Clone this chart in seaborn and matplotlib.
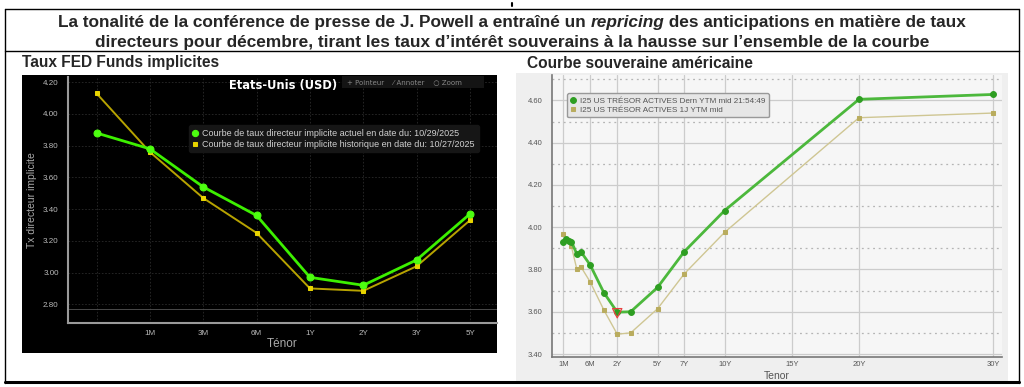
import numpy as np
import pandas as pd
import matplotlib
matplotlib.use("Agg")
import matplotlib.pyplot as plt
import seaborn as sns
from matplotlib.patches import Rectangle
from matplotlib.lines import Line2D

# -----------------------------
# Data
# -----------------------------

# left panel: implied fed funds curve
fed_tenors = ["", "1M", "3M", "6M", "1Y", "2Y", "3Y", "5Y"]
fed_current = [3.88, 3.78, 3.54, 3.36, 2.97, 2.92, 3.08, 3.37]
fed_previous = [4.13, 3.76, 3.47, 3.25, 2.90, 2.885, 3.04, 3.33]
fed_current_label = "Courbe de taux directeur implicite actuel en date du: 10/29/2025"
fed_previous_label = "Courbe de taux directeur implicite historique en date du: 10/27/2025"

# right panel: US treasury curve (maturity in years)
ust_years = [1/12, 1.5/12, 2/12, 2.5/12, 3.5/12, 4.25/12, 0.5, 1, 2, 3, 5, 7, 10, 20, 30]
ust_current = [3.932, 3.943, 3.937, 3.932, 3.874, 3.885, 3.822, 3.691, 3.598, 3.600,
               3.715, 3.885, 4.079, 4.605, 4.628]
ust_previous = [3.968, 3.940, 3.935, 3.909, 3.803, 3.814, 3.742, 3.609, 3.494, 3.500,
                3.614, 3.780, 3.976, 4.518, 4.540]
ust_tick_years = [1/12, 0.5, 2, 5, 7, 10, 15, 20, 30]
ust_tick_labels = ["1M", "6M", "2Y", "5Y", "7Y", "10Y", "15Y", "20Y", "30Y"]
ust_current_label = "I25 US TRÉSOR ACTIVES Dern YTM mid 21:54:49"
ust_previous_label = "I25 US TRÉSOR ACTIVES 1J YTM mid"

title_parts = [("La tonalité de la conférence de presse de J. Powell a entraîné un ", "normal"),
               ("repricing", "italic"),
               (" des anticipations en matière de taux", "normal")]
title_line2 = "directeurs pour décembre, tirant les taux d’intérêt souverains à la hausse sur l’ensemble de la courbe"

# -----------------------------
# Figure setup
# -----------------------------

sns.set_theme(style="white")
NARROW = ["Liberation Sans Narrow", "Liberation Sans", "DejaVu Sans"]
plt.rcParams["font.family"] = ["Liberation Sans", "DejaVu Sans"]

W, H = 1024, 387
fig = plt.figure(figsize=(W / 100, H / 100), dpi=100)
fig.patch.set_facecolor("white")


def rect(x0, y0, x1, y1):
    return [x0 / W, 1 - y1 / H, (x1 - x0) / W, (y1 - y0) / H]


def fx(x):
    return x / W


def fy(y):
    return 1 - y / H


# outer frame lines
for xs, ys, lw in [([5, 1019], [9, 9], 1.0), ([5, 1019], [51, 51], 1.0),
                   ([5, 5], [9, 383], 1.0), ([1019, 1019], [9, 383], 1.0),
                   ([5, 1019], [382, 382], 2.2)]:
    fig.add_artist(Line2D([fx(x) for x in xs], [fy(y) for y in ys], color="black", lw=lw))
fig.add_artist(Line2D([fx(512), fx(512)], [fy(3), fy(6)], color="black", lw=1.5))

# title with italic word
fs_title = 12.4
pieces = []
for txt, st in title_parts:
    pieces.append(fig.text(0, fy(22), txt, family=NARROW, weight="bold", style=st,
                           fontsize=fs_title, va="center", ha="left"))
fig.canvas.draw()
r = fig.canvas.get_renderer()
widths = [p.get_window_extent(r).width for p in pieces]
x = 512 - sum(widths) / 2
for p, w in zip(pieces, widths):
    p.set_x(fx(x))
    x += w
fig.text(0.5, fy(42), title_line2, family=NARROW, weight="bold", fontsize=fs_title,
         va="center", ha="center")

fig.text(fx(22), fy(63), "Taux FED Funds implicites", family=NARROW, weight="bold",
         fontsize=11.2, va="center", ha="left")
fig.text(fx(527), fy(63), "Courbe souveraine américaine", family=NARROW, weight="bold",
         fontsize=11.2, va="center", ha="left")

# -----------------------------
# Left panel (black Bloomberg style)
# -----------------------------

fig.add_artist(Rectangle((fx(22), fy(353)), (497 - 22) / W, (353 - 75) / H,
                         transform=fig.transFigure, facecolor="black", edgecolor="none", zorder=0))
ax1 = fig.add_axes(rect(67.7, 77, 496.7, 322.7))
ax1.set_facecolor("black")

pos = np.arange(len(fed_tenors))
sns.lineplot(x=pos, y=fed_previous, ax=ax1, color="#b7a300", lw=1.4, marker="s",
             markersize=3.5, markerfacecolor="#e8d400", markeredgecolor="#e8d400",
             label=fed_previous_label, zorder=3)
sns.lineplot(x=pos, y=fed_current, ax=ax1, color="#3df000", lw=2.0, marker="o",
             markersize=5, markerfacecolor="#4dff10", markeredgecolor="#4dff10",
             label=fed_current_label, zorder=4)

ax1.set_xlim(-0.54, 7.5)
ax1.set_ylim(2.684, 4.233)
ax1.set_yticks(np.arange(2.8, 4.21, 0.2))
ax1.set_yticklabels([f"{v:.2f}" for v in np.arange(2.8, 4.21, 0.2)])
ax1.set_xticks(pos)
ax1.set_xticklabels(fed_tenors)
ax1.tick_params(colors="#bbbbbb", labelsize=5.8, length=3, width=1.2, direction="out")
ax1.tick_params(axis="x", pad=2)
ax1.tick_params(axis="y", colors="white", labelcolor="#bbbbbb")
ax1.grid(True, color="#2a2a2a", lw=0.6, ls=(0, (2, 2)))
ax1.axhline(2.77, color="#555555", lw=0.6)
for s in ["top", "right"]:
    ax1.spines[s].set_visible(False)
for s in ["left", "bottom"]:
    ax1.spines[s].set_color("#9a9a9a")
    ax1.spines[s].set_linewidth(1.5)
ax1.set_xlabel("Ténor", color="#aaaaaa", fontsize=8.5, labelpad=1)
ax1.set_ylabel("Tx directeur implicite", color="#aaaaaa", fontsize=7.5, labelpad=4)

h, l = ax1.get_legend_handles_labels()
leg1 = ax1.legend(h[::-1], l[::-1], loc="upper left", bbox_to_anchor=(0.272, 0.822),
                  fontsize=6.5, frameon=True, facecolor="#161616", edgecolor="#161616",
                  labelcolor="#d0d0d0", handlelength=0.6, handletextpad=0.5,
                  borderpad=0.4, labelspacing=0.2, framealpha=1, markerscale=0.9)
for hd in leg1.legend_handles:
    hd.set_linestyle("none")

fig.text(fx(283), fy(86), "Etats-Unis (USD)", color="white", weight="bold",
         family=["DejaVu Sans"], fontsize=8.3, ha="center", va="center")
fig.add_artist(Rectangle((fx(342), fy(88)), (484 - 342) / W, (88 - 76) / H,
                         transform=fig.transFigure, facecolor="#141414", edgecolor="none"))
fig.text(fx(347), fy(82), "+ Pointeur    ⁄ Annoter    ○ Zoom", color="#888888",
         family=["DejaVu Sans"], fontsize=5.0, ha="left", va="center")

# -----------------------------
# Right panel (light Bloomberg style)
# -----------------------------

fig.add_artist(Rectangle((fx(516), fy(381)), (1008 - 516) / W, (381 - 73) / H,
                         transform=fig.transFigure, facecolor="#efefef", edgecolor="none", zorder=0))
ax2 = fig.add_axes(rect(551.7, 75, 1001.7, 357))
ax2.set_facecolor("#f6f6f6")

knots_y = [-1.0, 1/12, 0.5, 1.0, 30.0, 40.0]
knots_p = [-69.3, 0.0, 26.7, 40.4, 430.0, 564.3]


def fwd(v):
    return np.interp(v, knots_y, knots_p)


def inv(v):
    return np.interp(v, knots_p, knots_y)


ax2.set_xscale("function", functions=(fwd, inv))

sns.lineplot(x=ust_years, y=ust_previous, ax=ax2, color="#cfc693", lw=1.0, marker="s",
             markersize=2.8, markerfacecolor="#b9ac5e", markeredgecolor="#b9ac5e",
             label=ust_previous_label, zorder=3)
sns.lineplot(x=ust_years, y=ust_current, ax=ax2, color="#4cb83c", lw=2.0, marker="o",
             markersize=4.2, markerfacecolor="#2e9e22", markeredgecolor="#2e9e22",
             label=ust_current_label, zorder=4)
i_min = int(np.argmin(ust_current))
ax2.scatter([ust_years[i_min]], [ust_current[i_min] - 0.005], marker="v", s=45,
            facecolors="none", edgecolors="#e84040", lw=0.9, zorder=5)

ax2.set_xlim(inv(-11.7), inv(438.4))
ax2.set_ylim(3.386, 4.72)
ax2.set_xticks(ust_tick_years)
ax2.set_xticklabels(ust_tick_labels)
ax2.set_yticks(np.arange(3.4, 4.61, 0.2))
ax2.set_yticklabels([f"{v:.2f}" for v in np.arange(3.4, 4.61, 0.2)])
ax2.set_yticks(np.arange(3.5, 4.71, 0.2), minor=True)
ax2.tick_params(axis="both", which="major", labelsize=5.5, colors="#555555",
                length=3, width=1, direction="out")
ax2.tick_params(axis="x", length=0, pad=3)
ax2.tick_params(axis="y", which="minor", length=3, width=1, colors="#555555")
ax2.grid(True, which="major", color="#cccccc", lw=0.9)
ax2.grid(True, which="minor", axis="y", color="#b5b5b5", lw=0.9, ls=(0, (1.5, 3)))
for s in ["top", "right"]:
    ax2.spines[s].set_visible(False)
for s in ["left", "bottom"]:
    ax2.spines[s].set_color("#777777")
    ax2.spines[s].set_linewidth(1.2)
ax2.set_xlabel("Tenor", color="#555555", fontsize=7.5, labelpad=2)
ax2.set_ylabel("")

h, l = ax2.get_legend_handles_labels()
leg2 = ax2.legend(h[::-1], l[::-1], loc="upper left", bbox_to_anchor=(0.025, 0.95),
                  fontsize=5.9, frameon=True, facecolor="#e6e6e6", edgecolor="#999999",
                  labelcolor="#555555", handlelength=0.5, handletextpad=0.6,
                  borderpad=0.45, labelspacing=0.15, framealpha=1, fancybox=True)
for hd in leg2.legend_handles:
    hd.set_linestyle("none")

fig.savefig("out.png", dpi=100, facecolor="white")
